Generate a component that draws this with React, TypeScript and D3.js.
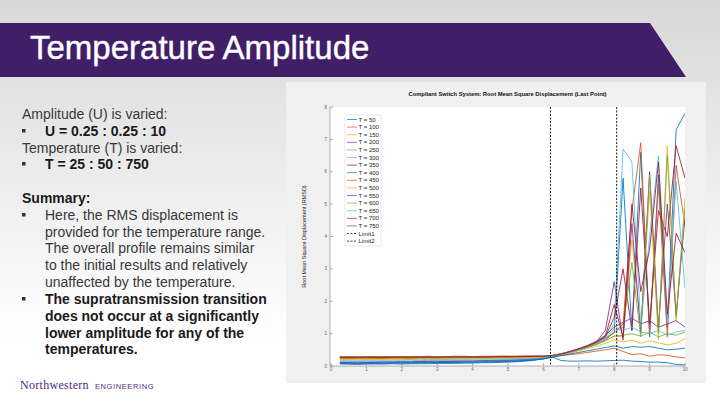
import React from "react";
import * as d3 from "d3";

const AMPLITUDE = [0.25, 0.5, 0.75, 1, 1.25, 1.5, 1.75, 2, 2.25, 2.5, 2.75, 3, 3.25, 3.5, 3.75, 4, 4.25, 4.5, 4.75, 5, 5.25, 5.5, 5.75, 6, 6.25, 6.5, 6.75, 7, 7.25, 7.5, 7.75, 8, 8.25, 8.5, 8.75, 9, 9.25, 9.5, 9.75, 10];

const TEMP_LABELS = ["T = 50", "T = 100", "T = 150", "T = 200", "T = 250", "T = 300", "T = 350", "T = 400", "T = 450", "T = 500", "T = 550", "T = 600", "T = 650", "T = 700", "T = 750"];

const S_T50 = [0.08,0.07,0.07,0.08,0.08,0.08,0.09,0.09,0.09,0.10,0.10,0.10,0.11,0.11,0.11,0.12,0.12,0.13,0.13,0.14,0.15,0.17,0.19,0.22, 0.28,0.34,0.41,0.48,0.57,0.67,0.80,1.05, 5.8,1.1,6.6,0.9,5.9,1.2,7.3,7.8];
const S_T100 = [0.27,0.27,0.28,0.27,0.27,0.28,0.28,0.27,0.28,0.28,0.28,0.27,0.28,0.28,0.29,0.28,0.28,0.29,0.29,0.28,0.29,0.29,0.28,0.29, 0.31,0.37,0.44,0.51,0.60,0.71,0.84,1.02, 1.3,4.8,6.9,1.0,5.6,0.9,6.2,4.3];
const S_T150 = [0.22,0.22,0.23,0.22,0.22,0.23,0.23,0.22,0.23,0.23,0.24,0.23,0.23,0.24,0.24,0.24,0.25,0.24,0.25,0.25,0.26,0.26,0.27,0.27, 0.30,0.35,0.42,0.49,0.57,0.66,0.78,0.93, 0.9,3.9,1.1,5.4,0.8,6.8,1.4,5.2];
const S_T200 = [0.10,0.11,0.10,0.11,0.11,0.12,0.11,0.12,0.12,0.13,0.13,0.13,0.14,0.14,0.15,0.15,0.16,0.16,0.17,0.18,0.19,0.20,0.22,0.24, 0.29,0.36,0.44,0.52,0.62,0.75,1.10,2.6, 0.8,4.4,1.0,6.0,1.2,5.0,1.6,4.6];
const S_T250 = [0.25,0.25,0.24,0.25,0.25,0.25,0.26,0.25,0.25,0.26,0.26,0.26,0.25,0.26,0.26,0.27,0.26,0.27,0.27,0.27,0.28,0.28,0.28,0.29, 0.31,0.37,0.43,0.50,0.58,0.67,0.78,0.92, 0.95,1.0,0.92,1.05,0.9,1.0,0.95,1.05];
const S_T300 = [0.18,0.18,0.19,0.18,0.18,0.19,0.19,0.19,0.20,0.19,0.20,0.20,0.20,0.21,0.21,0.21,0.22,0.22,0.22,0.23,0.23,0.24,0.25,0.26, 0.30,0.36,0.43,0.51,0.60,0.72,0.88,1.3, 6.7,6.3,1.2,4.0,6.5,1.3,5.7,2.4];
const S_T350 = [0.29,0.29,0.28,0.29,0.29,0.29,0.28,0.29,0.29,0.29,0.30,0.29,0.29,0.30,0.30,0.29,0.30,0.30,0.30,0.30,0.30,0.31,0.31,0.31, 0.33,0.38,0.45,0.53,0.62,0.74,0.90,1.5, 3.0,1.1,5.5,1.3,4.8,4.0,6.8,5.8];
const S_T400 = [0.06,0.06,0.05,0.06,0.06,0.06,0.07,0.06,0.07,0.07,0.07,0.08,0.08,0.08,0.09,0.09,0.10,0.10,0.11,0.12,0.13,0.15,0.18,0.22, 0.28,0.17,0.15,0.15,0.16,0.15,0.16,0.17, 0.18,0.15,0.14,0.12,0.12,0.10,0.05,0.03];
const S_T450 = [0.24,0.24,0.25,0.24,0.24,0.24,0.25,0.25,0.24,0.25,0.25,0.25,0.26,0.25,0.26,0.26,0.26,0.26,0.27,0.27,0.27,0.28,0.28,0.28, 0.29,0.32,0.35,0.38,0.42,0.46,0.50,0.55, 0.45,0.35,0.38,0.30,0.35,0.33,0.28,0.25];
const S_T500 = [0.20,0.20,0.21,0.20,0.20,0.21,0.21,0.21,0.21,0.22,0.22,0.22,0.22,0.23,0.23,0.23,0.23,0.24,0.24,0.24,0.25,0.25,0.26,0.27, 0.30,0.35,0.41,0.47,0.54,0.61,0.70,0.80, 0.75,0.80,0.70,0.78,0.72,0.65,0.70,0.85];
const S_T550 = [0.12,0.12,0.13,0.12,0.13,0.13,0.13,0.14,0.14,0.14,0.15,0.15,0.15,0.16,0.16,0.16,0.17,0.17,0.18,0.18,0.19,0.20,0.22,0.24, 0.30,0.37,0.45,0.54,0.64,0.77,0.95,1.20, 1.35,1.48,1.30,1.40,1.20,1.30,1.40,1.20];
const S_T600 = [0.28,0.28,0.27,0.28,0.28,0.28,0.28,0.28,0.29,0.28,0.28,0.29,0.29,0.29,0.29,0.29,0.29,0.29,0.30,0.30,0.30,0.30,0.30,0.30, 0.32,0.38,0.44,0.52,0.61,0.72,0.86,1.05, 1.2,3.2,0.9,5.9,1.0,6.5,1.5,4.9];
const S_T650 = [0.15,0.15,0.16,0.15,0.15,0.16,0.16,0.16,0.16,0.17,0.17,0.17,0.17,0.18,0.18,0.18,0.19,0.19,0.19,0.20,0.21,0.22,0.23,0.25, 0.30,0.36,0.43,0.51,0.60,0.71,0.85,1.15, 1.10,1.20,1.05,1.00,1.10,0.95,1.05,1.10];
const S_T700 = [0.26,0.26,0.26,0.27,0.26,0.26,0.27,0.27,0.27,0.27,0.27,0.27,0.28,0.28,0.28,0.28,0.28,0.28,0.29,0.29,0.29,0.29,0.30,0.30, 0.32,0.37,0.44,0.52,0.61,0.73,0.92,1.9, 0.9,5.0,2.3,3.6,6.3,1.6,4.1,3.5];
const S_T750 = [0.09,0.09,0.08,0.09,0.09,0.09,0.10,0.10,0.10,0.10,0.11,0.11,0.11,0.12,0.12,0.12,0.13,0.13,0.14,0.15,0.16,0.17,0.19,0.22, 0.27,0.32,0.37,0.42,0.47,0.52,0.57,0.62, 0.55,0.60,0.58,0.60,0.55,0.50,0.52,0.55];

const SERIES = [S_T50, S_T100, S_T150, S_T200, S_T250, S_T300, S_T350, S_T400, S_T450, S_T500, S_T550, S_T600, S_T650, S_T700, S_T750];
const COLORS = ["#0072BD", "#D95319", "#EDB120", "#7E2F8E", "#77AC30", "#4DBEEE", "#A2142F"];

const LIMITS = [6.2, 8.07];
const LIMIT_LABELS = ["Limit1", "Limit2"];

const X_TICKS = [0, 1, 2, 3, 4, 5, 6, 7, 8, 9, 10];
const Y_TICKS = [0, 1, 2, 3, 4, 5, 6, 7, 8];

const TEXT_LINES = [
  { y: 119, bullet: false, bold: false, t: "Amplitude (U) is varied:" },
  { y: 136, bullet: true, bold: true, t: "U = 0.25 : 0.25 : 10" },
  { y: 153, bullet: false, bold: false, t: "Temperature (T) is varied:" },
  { y: 169, bullet: true, bold: true, t: "T = 25 : 50 : 750" },
  { y: 203, bullet: false, bold: true, t: "Summary:" },
  { y: 220, bullet: true, bold: false, t: "Here, the RMS displacement is" },
  { y: 237, bullet: false, indent: true, bold: false, t: "provided for the temperature range." },
  { y: 253, bullet: false, indent: true, bold: false, t: "The overall profile remains similar" },
  { y: 270, bullet: false, indent: true, bold: false, t: "to the initial results and relatively" },
  { y: 287, bullet: false, indent: true, bold: false, t: "unaffected by the temperature." },
  { y: 304, bullet: true, bold: true, t: "The supratransmission transition" },
  { y: 321, bullet: false, indent: true, bold: true, t: "does not occur at a significantly" },
  { y: 338, bullet: false, indent: true, bold: true, t: "lower amplitude for any of the" },
  { y: 354, bullet: false, indent: true, bold: true, t: "temperatures." },
];

export default function App() {
  const x = d3.scaleLinear().domain([0, 10]).range([331, 685]);
  const y = d3.scaleLinear().domain([0, 8]).range([366, 107]);
  const line = d3
    .line<number>()
    .x((_, i) => x(AMPLITUDE[i]))
    .y((d) => y(d));

  const sans = "'Liberation Sans', Arial, sans-serif";
  const legendX = 345;
  const legendY = 115;
  const legendStep = 7.6;
  const legendItems = [
    ...TEMP_LABELS.map((l, i) => ({ label: l, color: COLORS[i % 7], dash: false })),
    ...LIMIT_LABELS.map((l) => ({ label: l, color: "#000", dash: true })),
  ];

  return (
    <svg
      width={720}
      height={405}
      style={{ position: "absolute", left: 0, top: 0, display: "block" }}
      fontFamily={sans}
    >
      <defs>
        <linearGradient id="bg" x1="0" y1="0" x2="0" y2="1">
          <stop offset="0" stopColor="#d7d7d7" />
          <stop offset="0.25" stopColor="#e4e4e4" />
          <stop offset="0.85" stopColor="#ffffff" />
          <stop offset="1" stopColor="#ffffff" />
        </linearGradient>
        <clipPath id="plotclip">
          <rect x={330} y={107} width={355} height={259} />
        </clipPath>
      </defs>
      <rect x={0} y={0} width={720} height={405} fill="url(#bg)" />

      {/* Title bar */}
      <polygon points="0,23 650,23 686,77 0,77" fill="#401f68" />
      <text x={30} y={59} fontSize={33} fill="#ffffff" stroke="#ffffff" strokeWidth={0.4}>
        Temperature Amplitude
      </text>

      {/* Left text */}
      {TEXT_LINES.map((l, i) => (
        <g key={i}>
          {l.bullet && <rect x={22} y={l.y - 7} width={3.5} height={3.5} fill="#333" />}
          <text
            x={l.bullet || l.indent ? 45 : 22}
            y={l.y}
            fontSize={14}
            fontWeight={l.bold ? "bold" : "normal"}
            fill={l.bold ? "#1a1a1a" : "#383838"}
          >
            {l.t}
          </text>
        </g>
      ))}

      {/* Footer */}
      <text x={20} y={389} fontSize={12} fontFamily="'Liberation Serif', serif" fill="#4E2A84" letterSpacing={0.3}>
        Northwestern
      </text>
      <text x={95} y={389} fontSize={7.5} fill="#4E2A84" letterSpacing={0.6}>
        ENGINEERING
      </text>

      {/* Figure */}
      <rect x={286} y={82} width={420} height={301} fill="#f0f0f0" />
      <text x={507.5} y={96} textAnchor="middle" fontSize={5.8} fontWeight="bold" fill="#111">
        Compliant Switch System: Root Mean Square Displacement (Last Point)
      </text>
      <rect x={330} y={107} width={355} height={259} fill="#ffffff" />

      <g clipPath="url(#plotclip)">
        {SERIES.map((s, i) => (
          <path key={i} d={line(s) || ""} fill="none" stroke={COLORS[i % 7]} strokeWidth={0.85} />
        ))}
        {LIMITS.map((v, i) => (
          <line key={i} x1={x(v)} x2={x(v)} y1={107} y2={366} stroke="#000" strokeWidth={0.9} strokeDasharray="2,1.5" />
        ))}
      </g>

      {/* Axes */}
      <line x1={330} x2={330} y1={107} y2={366} stroke="#666" strokeWidth={0.5} />
      <line x1={330} x2={685} y1={366} y2={366} stroke="#666" strokeWidth={0.5} />
      {X_TICKS.map((t) => (
        <g key={t}>
          <line x1={x(t)} x2={x(t)} y1={366} y2={363} stroke="#666" strokeWidth={0.5} />
          <text x={x(t)} y={371} textAnchor="middle" fontSize={4.5} fill="#666">
            {t}
          </text>
        </g>
      ))}
      {Y_TICKS.map((t) => (
        <g key={t}>
          <line x1={330} x2={333} y1={y(t)} y2={y(t)} stroke="#666" strokeWidth={0.5} />
          <text x={327} y={y(t) + 1.5} textAnchor="end" fontSize={4.5} fill="#666">
            {t}
          </text>
        </g>
      ))}
      <text
        transform={`translate(306,236.5) rotate(-90)`}
        textAnchor="middle"
        fontSize={5.5}
        fill="#222"
      >
        Root Mean Square Displacement (RMSD)
      </text>

      {/* Legend */}
      <rect x={legendX} y={legendY} width={36} height={131} fill="#ffffff" stroke="#c8c8c8" strokeWidth={0.4} />
      {legendItems.map((it, i) => {
        const yy = legendY + 4.5 + i * legendStep;
        return (
          <g key={i}>
            <line
              x1={legendX + 2}
              x2={legendX + 12}
              y1={yy}
              y2={yy}
              stroke={it.color}
              strokeWidth={0.7}
              strokeDasharray={it.dash ? "2,1.5" : undefined}
            />
            <text x={legendX + 13.5} y={yy + 2} fontSize={6} fill="#222">
              {it.label}
            </text>
          </g>
        );
      })}
    </svg>
  );
}
